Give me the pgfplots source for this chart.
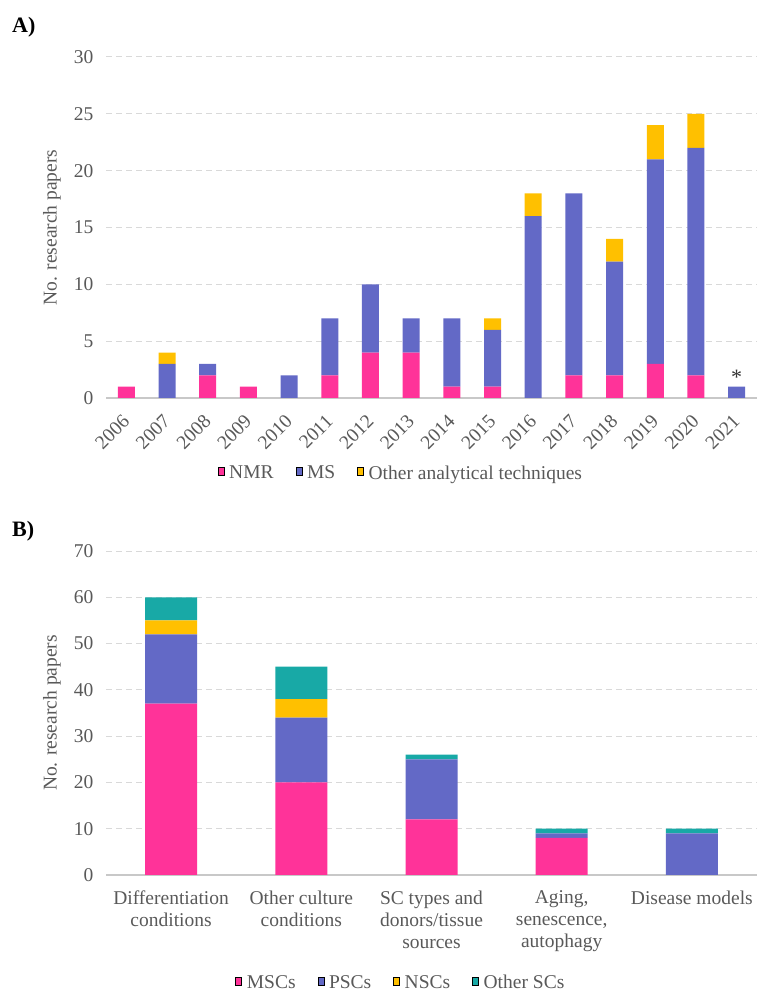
\documentclass[border=0pt]{standalone}
\usepackage{pgfplots}
\pgfplotsset{compat=1.18}
\usepackage{pgfplotstable}
\usepackage{fontspec}
\setmainfont{Liberation Serif}

\definecolor{cNMR}{HTML}{FF3399}
\definecolor{cMS}{HTML}{6369C6}
\definecolor{cOther}{HTML}{FFC000}
\definecolor{cTeal}{HTML}{18A9A6}
\definecolor{cText}{HTML}{595959}
\definecolor{cGrid}{HTML}{D9D9D9}
\definecolor{cAxis}{HTML}{C8C8C8}

% Papers per year by analytical technique
\pgfplotstableread{
year nmr ms other
2006 1 0 0
2007 0 3 1
2008 2 1 0
2009 1 0 0
2010 0 2 0
2011 2 5 0
2012 4 6 0
2013 4 3 0
2014 1 6 0
2015 1 5 1
2016 0 16 2
2017 2 16 0
2018 2 10 2
2019 3 18 3
2020 2 20 3
2021 0 1 0
}\papersyear

% Papers per research topic by stem-cell type
\pgfplotstableread{
cat msc psc nsc osc
0 37 15 3 5
1 20 14 4 7
2 12 13 0 1
3 8 1 0 1
4 0 9 0 1
}\paperstopic

\pgfplotsset{
  common/.style={
    scale only axis,
    width=651pt,
    ymin=0,
    ymajorgrids,
    grid style={cGrid, line width=1pt, dash pattern=on 6pt off 4pt},
    axis x line*=bottom,
    axis y line*=left,
    y axis line style={draw=none},
    x axis line style={draw=cAxis, line width=1.3pt},
    major tick length=0pt,
    tick label style={text=cText, font=\fontsize{19.5}{22}\selectfont},
    yticklabel style={xshift=-9pt},
    /pgf/number format/assume math mode=true,
    ylabel={No. research papers},
    ylabel style={text=cText, font=\fontsize{19.5}{22}\selectfont,
                  at={(axis description cs:-0.083,0.5)}, anchor=center},
    legend style={draw=none, fill=none, text=cText,
                  font=\fontsize{19.5}{22}\selectfont,
                  legend columns=-1, anchor=center,
                  /tikz/every odd column/.append style={column sep=3pt},
                  /tikz/every even column/.append style={column sep=20pt}},
    legend image code/.code={\fill[##1, draw=none] (0pt,-4.5pt) rectangle (9pt,4.5pt);},
    every axis plot/.append style={draw=none},
  },
}

\begin{document}
\begin{tikzpicture}
\useasboundingbox (0pt,0pt) rectangle (758pt,992pt);

\node[anchor=west, font=\bfseries\fontsize{22}{22}\selectfont, inner sep=0pt] at (12pt,965pt) {A)};
\node[anchor=west, font=\bfseries\fontsize{22}{22}\selectfont, inner sep=0pt] at (12pt,461pt) {B)};

\begin{axis}[common,
  at={(106pt,594pt)}, anchor=south west,
  height=341pt,
  ybar stacked, bar width=17pt,
  xmin=2005.5, xmax=2021.5,
  ymax=30, ytick={0,5,...,30},
  xtick={2006,...,2021},
  xticklabel style={/pgf/number format/1000 sep={}, rotate=45, anchor=north east,
                    xshift=-11pt, yshift=-4pt},
  legend style={at={(axis description cs:0.453,-0.22)}},
]
\addplot[fill=cNMR] table[x=year, y=nmr] {\papersyear};
\addlegendentry{NMR}
\addplot[fill=cMS] table[x=year, y=ms] {\papersyear};
\addlegendentry{MS}
\addplot[fill=cOther] table[x=year, y=other] {\papersyear};
\addlegendentry{Other analytical techniques}
\node[anchor=south, inner sep=2pt, font=\fontsize{22}{22}\selectfont, text=black!80] at (axis cs:2021,1) {*};
\end{axis}

\begin{axis}[common,
  at={(106pt,117pt)}, anchor=south west,
  height=324pt,
  ybar stacked, bar width=52pt,
  xmin=-0.5, xmax=4.5,
  ymax=70, ytick={0,10,...,70},
  xtick={0,1,2,3,4},
  xticklabels={{Differentiation\\conditions},{Other culture\\conditions},
               {SC types and\\donors/tissue\\sources},{Aging,\\senescence,\\autophagy},
               {Disease models}},
  xticklabel style={align=center, anchor=north, yshift=-12pt},
  legend style={at={(axis description cs:0.453,-0.333)}},
]
\addplot[fill=cNMR] table[x=cat, y=msc] {\paperstopic};
\addlegendentry{MSCs}
\addplot[fill=cMS] table[x=cat, y=psc] {\paperstopic};
\addlegendentry{PSCs}
\addplot[fill=cOther] table[x=cat, y=nsc] {\paperstopic};
\addlegendentry{NSCs}
\addplot[fill=cTeal] table[x=cat, y=osc] {\paperstopic};
\addlegendentry{Other SCs}
\end{axis}
\end{tikzpicture}
\end{document}
